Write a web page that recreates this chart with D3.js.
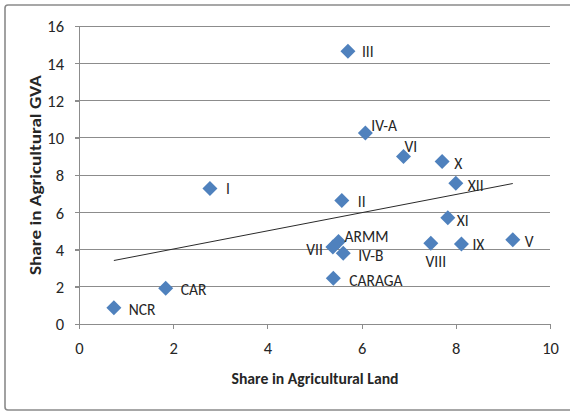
<!DOCTYPE html>
<html>
<head>
<meta charset="utf-8">
<script src="https://cdn.jsdelivr.net/npm/d3@7"></script>
<style>
  html, body { margin: 0; padding: 0; background: #fff; }
  svg { display: block; }
  text { font-family: Carlito, Lato, sans-serif; fill: #262626; }
</style>
</head>
<body>
<svg id="chart" width="570" height="412"></svg>
<script>
// ---- Data ----
const regions = ["NCR","CAR","I","II","III","IV-A","IV-B","V","VI","VII","VIII","IX","X","XI","XII","ARMM","CARAGA"];
const landShare = [0.74, 1.84, 2.78, 5.58, 5.71, 6.08, 5.61, 9.21, 6.89, 5.39, 7.47, 8.12, 7.71, 7.83, 8.00, 5.51, 5.40];
const gvaShare  = [0.87, 1.92, 7.27, 6.63, 14.64, 10.25, 3.80, 4.52, 9.00, 4.14, 4.34, 4.29, 8.73, 5.70, 7.56, 4.43, 2.46];
const xTicks = [0, 2, 4, 6, 8, 10];
const yTicks = [0, 2, 4, 6, 8, 10, 12, 14, 16];
const xTitle = "Share in Agricultural Land";
const yTitle = "Share in Agricultural GVA";

// label placement relative to marker: [dx, dy, anchor]
const labelPlace = {
  "NCR": [15, 2, "start"], "CAR": [15, 1, "start"], "I": [16, 0, "start"],
  "II": [16, 1, "start"], "III": [14, 0, "start"], "IV-A": [6, -8, "start"],
  "IV-B": [15, 2, "start"], "V": [12, 2, "start"], "VI": [1, -10, "start"],
  "VII": [-10, 3, "end"], "VIII": [5, 18, "middle"], "IX": [11, 0, "start"],
  "X": [12, 2, "start"], "XI": [9, 3, "start"], "XII": [12, 2, "start"],
  "ARMM": [6, -5, "start"], "CARAGA": [16, 2, "start"]
};

const svg = d3.select("#chart");
const x = d3.scaleLinear().domain([0, 10]).range([79, 550]);
const y = d3.scaleLinear().domain([0, 16]).range([324, 26]);

// outer border
svg.append("rect").attr("x", 5).attr("y", 5).attr("width", 620).attr("height", 405)
  .attr("rx", 3).attr("fill", "#fff").attr("stroke", "#8a8a8a").attr("stroke-width", 1.6);

// gridlines
svg.append("g").selectAll("line").data(yTicks.filter(d => d > 0)).join("line")
  .attr("x1", x(0) - 4).attr("x2", x(10))
  .attr("y1", d => y(d)).attr("y2", d => y(d))
  .attr("stroke", "#8c8c8c").attr("stroke-width", 1).attr("shape-rendering", "crispEdges");

// y axis
const yAxis = svg.append("g").attr("transform", `translate(${x(0)},0)`)
  .call(d3.axisLeft(y).tickValues(yTicks).tickSize(4).tickPadding(11));
// x axis
const xAxis = svg.append("g").attr("transform", `translate(0,${y(0)})`)
  .call(d3.axisBottom(x).tickValues(xTicks).tickSize(5).tickPadding(13));
[yAxis, xAxis].forEach(g => {
  g.selectAll("path").attr("stroke", "#8c8c8c").attr("shape-rendering", "crispEdges");
  g.selectAll("line").attr("stroke", "#8c8c8c").attr("shape-rendering", "crispEdges");
  g.selectAll("text").attr("font-family", "Carlito, Lato, sans-serif")
    .attr("font-size", 16.5).attr("fill", "#2a2a2a");
});
yAxis.selectAll(".tick text").attr("dy", "0.36em");

// trendline (least squares)
const n = landShare.length;
const mx = d3.mean(landShare), my = d3.mean(gvaShare);
let sxy = 0, sxx = 0;
for (let i = 0; i < n; i++) { sxy += (landShare[i]-mx)*(gvaShare[i]-my); sxx += (landShare[i]-mx)**2; }
const slope = sxy / sxx, icpt = my - slope * mx;
const x0 = d3.min(landShare), x1 = d3.max(landShare);
svg.append("line")
  .attr("x1", x(x0)).attr("y1", y(icpt + slope*x0))
  .attr("x2", x(x1)).attr("y2", y(icpt + slope*x1))
  .attr("stroke", "#2a2a2a").attr("stroke-width", 1);

// markers
const pts = regions.map((r, i) => ({ r, lx: landShare[i], gy: gvaShare[i] }));
const half = 7.5;
const diamond = `M0,${-half}L${half},0L0,${half}L${-half},0Z`;
svg.append("g").selectAll("path").data(pts).join("path")
  .attr("d", diamond)
  .attr("transform", d => `translate(${x(d.lx)},${y(d.gy)})`)
  .attr("fill", "#4F81BD");

// labels
svg.append("g").selectAll("text").data(pts).join("text")
  .attr("x", d => x(d.lx) + labelPlace[d.r][0])
  .attr("y", d => y(d.gy) + labelPlace[d.r][1])
  .attr("dy", "0.36em")
  .attr("text-anchor", d => labelPlace[d.r][2])
  .attr("font-size", 15.5)
  .text(d => d.r);

// axis titles
svg.append("text").attr("x", 315).attr("y", 378).attr("dy", "0.36em")
  .attr("text-anchor", "middle").attr("font-weight", "bold").attr("font-size", 16)
  .attr("textLength", 167).attr("lengthAdjust", "spacingAndGlyphs")
  .attr("fill", "#111").text(xTitle);
svg.append("text").attr("transform", "translate(35,175) rotate(-90)").attr("dy", "0.36em")
  .attr("text-anchor", "middle").attr("font-weight", "bold").attr("font-size", 16)
  .attr("textLength", 200).attr("lengthAdjust", "spacingAndGlyphs")
  .attr("fill", "#111").text(yTitle);
</script>
</body>
</html>
